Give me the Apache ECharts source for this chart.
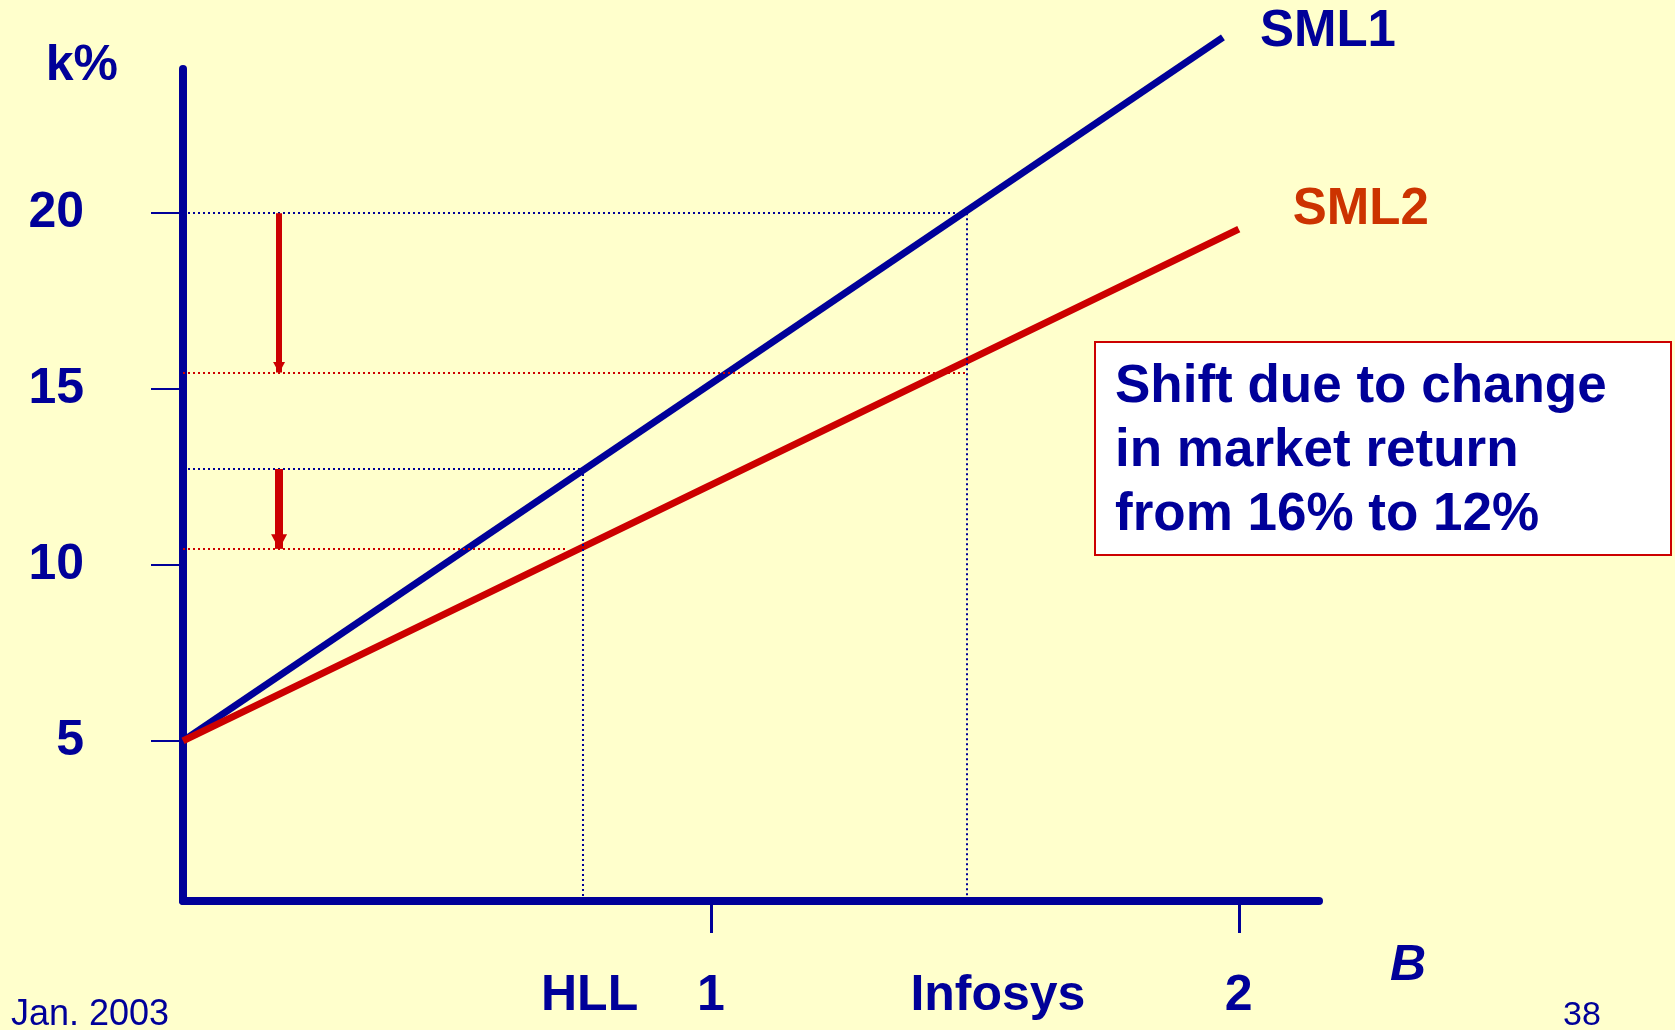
<!DOCTYPE html>
<html lang="en">
	<head>
		<meta charset="UTF-8" />
		<title>SML shift</title>
		<script src="https://cdn.jsdelivr.net/npm/echarts@6.0.0/dist/echarts.min.js"></script>
		<style>
			html, body { margin: 0; padding: 0; background: #ffffcc; }
		</style>
	</head>
	<body>
		<div id="main" style="width: 1675px; height: 1030px"></div>
		<script type="text/javascript">
			// values
			const kTicks = [5, 10, 15, 20];
			const betaTicks = [1, 2];
			const sml1 = [[0, 5], [1.97, 25.0]];
			const sml2 = [[0, 5], [2.0, 19.55]];
			const stocks = ["HLL", "Infosys"];
			const stockBeta = [0.757, 1.485];
			const kOnSml1 = [12.73, 20];
			const kOnSml2 = [10.46, 15.47];
			const sml1GuideEnd = [0.752, 1.464];
			const sml2GuideEnd = [0.729, 1.485];
			const arrowBeta = 0.182;

			const blue = "#000099";
			const red = "#cc0000";
			const font = "Liberation Sans";

			const blueGuides = [];
			const redGuides = [];
			stocks.forEach((s, i) => {
				blueGuides.push([{ coord: [0, kOnSml1[i]] }, { coord: [sml1GuideEnd[i], kOnSml1[i]] }]);
				blueGuides.push([{ coord: [stockBeta[i], kOnSml1[i]] }, { coord: [stockBeta[i], 0.45] }]);
				redGuides.push([{ coord: [0, kOnSml2[i]] }, { coord: [sml2GuideEnd[i], kOnSml2[i]] }]);
			});
			// downward arrows showing the shift at each stock
			const arrows = [
				[
					{ coord: [arrowBeta, kOnSml1[1]], lineStyle: { width: 6 } },
					{ coord: [arrowBeta, kOnSml2[1]], symbolSize: [12, 11], symbolOffset: [0, 5] },
				],
				[
					{ coord: [arrowBeta, kOnSml1[0]], lineStyle: { width: 8 } },
					{ coord: [arrowBeta, kOnSml2[0]], symbolSize: [16, 15], symbolOffset: [0, 7] },
				],
			];

			const chart = echarts.init(document.getElementById("main"));
			chart.setOption({
				backgroundColor: "#ffffcc",
				animation: false,
				textStyle: { fontFamily: font },
				grid: { left: 183, top: 69, width: 1136, height: 832 },
				xAxis: {
					type: "value",
					min: 0,
					max: 2.152,
					name: "B",
					nameLocation: "end",
					nameGap: 71,
					nameTextStyle: {
						color: blue, fontSize: 50, fontWeight: "bold", fontStyle: "italic",
						verticalAlign: "top", align: "left", padding: [40, 0, 0, 0],
					},
					splitLine: { show: false },
					axisLine: { lineStyle: { color: blue, width: 8 } },
					axisTick: { show: true, customValues: betaTicks, length: 32, lineStyle: { color: blue, width: 3 } },
					axisLabel: {
						customValues: [stockBeta[0], 1, stockBeta[1], 2],
						margin: 70,
						color: blue,
						fontSize: 50,
						fontWeight: "bold",
						formatter: (v) => {
							const i = stockBeta.indexOf(v);
							if (i === 0) return "{hll|" + stocks[i] + "}";
							if (i === 1) return "{inf|" + stocks[i] + "}";
							return String(v);
						},
						rich: {
							hll: { color: blue, fontSize: 50, fontWeight: "bold", fontFamily: font, padding: [0, 0, 0, 14] },
							inf: { color: blue, fontSize: 50, fontWeight: "bold", fontFamily: font, padding: [0, 0, 0, 62] },
						},
					},
				},
				yAxis: {
					type: "value",
					min: 0.45,
					max: 24.1,
					name: "k%",
					nameLocation: "end",
					nameGap: 3,
					nameTextStyle: {
						color: blue, fontSize: 50, fontWeight: "bold",
						align: "right", verticalAlign: "middle", padding: [0, 65, 0, 0],
					},
					splitLine: { show: false },
					axisLine: { lineStyle: { color: blue, width: 8 } },
					axisTick: { show: true, customValues: kTicks, length: 32, lineStyle: { color: blue, width: 2 } },
					axisLabel: {
						customValues: kTicks,
						margin: 99,
						color: blue,
						fontSize: 50,
						fontWeight: "bold",
					},
				},
				series: [
					{
						name: "SML1",
						type: "line",
						data: sml1,
						clip: false,
						showSymbol: false,
						lineStyle: { color: blue, width: 7 },
						endLabel: {
							show: true, formatter: "SML1", distance: 37, offset: [0, -5],
							color: blue, fontSize: 51, fontWeight: "bold",
						},
						markLine: {
							silent: true,
							symbol: "none",
							label: { show: false },
							lineStyle: { color: blue, width: 2, type: [2, 3] },
							data: blueGuides,
						},
						z: 3,
					},
					{
						name: "SML2",
						type: "line",
						data: sml2,
						clip: false,
						showSymbol: false,
						lineStyle: { color: red, width: 7 },
						endLabel: {
							show: true, formatter: "SML2", distance: 54, offset: [0, -19],
							color: "#cc3300", fontSize: 51, fontWeight: "bold",
						},
						markLine: {
							silent: true,
							symbol: "none",
							label: { show: false },
							lineStyle: { color: red, width: 2, type: [2, 3] },
							data: redGuides,
						},
						z: 4,
					},
					{
						name: "shift",
						type: "line",
						data: [],
						markLine: {
							silent: true,
							symbol: ["none", "triangle"],
							label: { show: false },
							lineStyle: { color: red, type: "solid" },
							itemStyle: { color: red },
							data: arrows,
						},
					},
				],
				graphic: [
					{
						type: "rect",
						left: 1094,
						top: 341,
						shape: { width: 576, height: 213 },
						style: { fill: "#ffffff", stroke: "#cc0000", lineWidth: 2 },
					},
					{
						type: "text",
						left: 1115,
						top: 355,
						style: {
							text: "Shift due to change\nin market return\nfrom 16% to 12%",
							fill: blue,
							font: "bold 53px 'Liberation Sans'",
							lineHeight: 64,
						},
					},
					{
						type: "text",
						left: 11,
						top: 997,
						style: { text: "Jan. 2003", fill: blue, font: "36px 'Liberation Sans'" },
					},
					{
						type: "text",
						left: 1563,
						top: 999,
						style: { text: "38", fill: blue, font: "34px 'Liberation Sans'" },
					},
				],
			});
		</script>
	</body>
</html>
